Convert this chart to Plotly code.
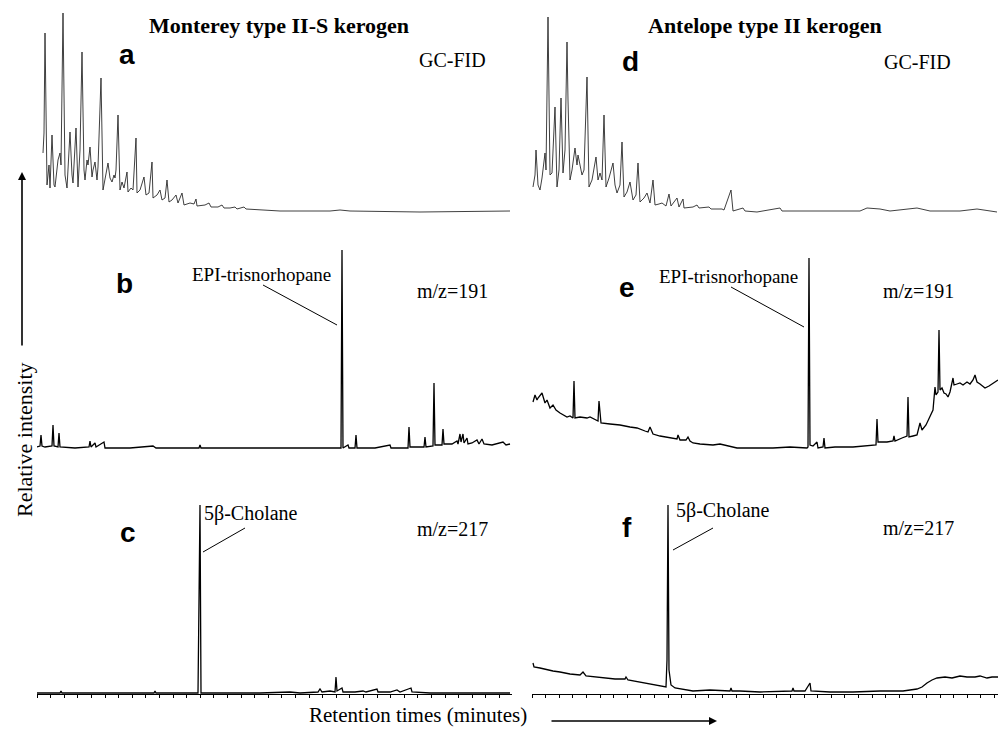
import plotly.graph_objects as go

# ---------------- data (retention time in minutes, relative intensity) ----------------
# Panel a: Monterey type II-S kerogen, GC-FID
a_rt = [1.5, 1.75, 2.0, 2.25, 2.5, 3.0, 3.25, 3.75, 4.25, 4.5, 5.0, 5.25, 5.75, 6.0, 6.5, 7.0, 7.5, 7.75,
        8.25, 8.75, 9.0, 9.25, 9.75, 10.25, 10.5, 10.75, 11.25, 11.75, 12.0, 12.5, 12.75, 13.25, 13.75, 14.0,
        14.5, 15.0, 15.25, 16.0, 16.5, 17.0, 17.25, 17.75, 18.25, 18.75, 19.25, 19.5, 19.75, 20.25, 20.75,
        21.25, 21.75, 22.5, 22.75, 23.5, 24.0, 24.75, 25.0, 25.75, 26.75, 27.25, 28.0, 28.75, 29.0, 30.0,
        30.75, 31.25, 32.0, 32.5, 33.0, 33.75, 34.75, 35.25, 36.25, 36.75, 38.25, 39.25, 39.75, 40.0, 42.0,
        43.0, 43.5, 45.25, 46.25, 46.75, 48.25, 49.5, 50.0, 51.75, 52.25, 56.5, 60.75, 73.25, 75.75, 78.25,
        95.75, 118.25]
a_int = [62, 82, 182, 65, 30, 50, 27, 80, 30, 28, 45, 55, 62, 50, 202, 40, 27, 45,
         83, 40, 32, 50, 87, 28, 45, 65, 163, 45, 35, 55, 50, 68, 38, 45,
         53, 35, 48, 137, 25, 35, 43, 52, 37, 33, 40, 37, 45, 100, 25,
         33, 27, 43, 23, 27, 25, 77, 22, 25, 38, 20, 22, 53, 17, 20,
         25, 15, 17, 35, 13, 15, 20, 12, 22, 10, 12, 11, 16, 9, 10,
         12, 8, 8, 10, 7, 7, 8, 6, 8, 6, 5, 4, 4, 5, 4,
         3, 4]

# Panel b: Monterey, m/z=191
b_rt = [0, 0.75, 1.0, 1.25, 2.0, 3.75, 4.0, 4.25, 5.25, 5.5, 5.75, 9.5, 13.0, 13.25, 13.5, 14.5, 14.75,
        16.75, 17.0, 23.25, 29.0, 29.75, 40.5, 40.75, 41.0, 55.75, 76.0, 76.25, 76.5, 77.75, 78.0, 79.5,
        79.75, 80.0, 84.5, 88.25, 88.5, 92.75, 93.0, 93.25, 96.75, 97.0, 97.25, 99.0, 99.25, 99.5, 101.25,
        101.5, 101.75, 103.75, 105.0, 105.25, 105.75, 106.0, 106.5, 106.75, 107.5, 107.75, 108.75, 110.0,
        110.5, 111.25, 111.75, 113.75, 116.5, 117.25, 118.25]
b_int = [8, 9, 20, 9, 8, 9, 30, 9, 8, 22, 8, 7, 8, 14, 8, 12, 8,
         13, 7, 7, 9, 7, 7, 10, 7, 7, 7, 205, 7, 10, 7, 7,
         20, 7, 7, 10, 7, 7, 28, 8, 8, 18, 8, 9, 72, 10, 10,
         26, 11, 11, 14, 11, 21, 13, 21, 12, 17, 11, 12, 15,
         11, 16, 11, 10, 13, 10, 11]

# Panel c: Monterey, m/z=217
c_rt = [0, 5.75, 6.0, 6.25, 29.25, 29.5, 29.75, 40.25, 40.5, 40.75, 41.0, 55.75, 63.25, 65.75, 70.25,
        70.75, 71.25, 73.25, 74.5, 74.75, 75.0, 76.25, 76.5, 79.5, 81.5, 82.25, 85.0, 85.25, 88.25, 90.0,
        90.75, 93.5, 93.75, 98.25, 118.25]
c_int = [1, 1, 3, 1, 1, 3, 1, 1, 94, 189, 1, 1, 2, 1, 2,
         5, 2, 3, 2, 17, 3, 6, 2, 2, 3, 2, 5, 2, 2, 4,
         2, 6, 2, 1, 1]

# Panel d: Antelope type II kerogen, GC-FID
d_rt = [0.25, 0.75, 1.0, 1.5, 2.0, 2.5, 3.25, 3.5, 4.0, 4.5, 5.0, 5.75, 6.25, 6.75, 7.25, 7.75, 8.25,
        8.75, 9.0, 9.5, 10.0, 10.75, 11.25, 11.5, 12.0, 12.5, 13.0, 13.75, 14.25, 15.0, 16.0, 16.5, 17.0,
        17.5, 18.0, 18.5, 19.25, 20.25, 20.75, 21.25, 22.0, 22.5, 23.0, 23.75, 24.5, 25.25, 26.0, 26.5,
        27.0, 28.0, 28.75, 29.5, 30.25, 30.75, 31.75, 32.5, 33.5, 34.25, 34.75, 36.25, 36.75, 37.75, 38.0,
        40.25, 41.25, 41.75, 44.25, 44.75, 47.5, 48.0, 49.75, 50.25, 52.75, 53.25, 56.25, 62.0, 62.5,
        72.0, 82.0, 83.75, 87.0, 89.5, 96.25, 99.5, 107.0, 111.25, 116.25]
d_int = [28, 40, 65, 30, 25, 37, 62, 45, 198, 40, 42, 108, 28, 45, 117, 42, 65,
         173, 115, 35, 45, 67, 50, 60, 50, 40, 45, 138, 28, 35, 58, 35, 42,
         35, 100, 28, 37, 52, 30, 22, 30, 73, 18, 23, 33, 15, 20, 52,
         13, 17, 22, 12, 35, 10, 11, 12, 9, 21, 9, 17, 8, 16, 7,
         8, 10, 7, 8, 6, 6, 5, 25, 4, 7, 4, 3, 7, 4,
         4, 4, 7, 6, 4, 7, 4, 4, 6, 3]

# Panel e: Antelope, m/z=191
e_rt = [0.25, 0.75, 1.25, 1.5, 2.5, 3.25, 3.75, 4.5, 5.25, 6.0, 7.0, 8.0, 8.75, 9.5, 10.25, 10.5, 10.75,
        12.0, 13.75, 14.5, 15.75, 16.5, 16.75, 17.25, 19.5, 22.0, 24.5, 26.25, 28.25, 29.0, 29.5, 30.25,
        32.0, 34.5, 36.25, 36.5, 37.0, 38.5, 39.0, 39.5, 40.25, 42.0, 45.25, 47.0, 51.25, 55.75, 60.25,
        64.5, 68.75, 69.0, 69.25, 69.5, 70.25, 71.25, 71.5, 72.75, 73.0, 73.25, 75.75, 80.25, 83.25, 85.25,
        86.0, 86.25, 86.5, 88.75, 90.25, 90.5, 90.75, 92.5, 93.5, 93.75, 94.0, 94.25, 95.25, 96.25, 97.0,
        97.5, 98.5, 99.75, 100.25, 100.75, 101.0, 101.5, 101.75, 102.0, 102.5, 103.0, 103.5, 104.0, 104.5,
        105.25, 105.5, 106.25, 107.0, 107.75, 108.75, 109.5, 110.25, 110.75, 111.25, 112.0, 113.25, 114.25,
        115.25, 116.0, 116.5]
e_int = [53, 60, 55, 57, 62, 52, 55, 47, 50, 45, 42, 40, 38, 39, 37, 74, 37,
         38, 37, 38, 35, 34, 54, 32, 31, 30, 28, 27, 24, 23, 28, 21,
         19, 17, 16, 20, 15, 15, 18, 14, 12, 11, 10, 11, 7, 7, 7,
         8, 7, 8, 197, 10, 9, 13, 7, 8, 17, 7, 8, 8, 9, 10,
         10, 36, 13, 13, 14, 19, 14, 17, 18, 19, 58, 18, 19, 20, 32,
         25, 30, 40, 45, 68, 60, 63, 125, 65, 67, 62, 61, 58, 63,
         77, 70, 71, 72, 70, 73, 71, 75, 80, 73, 71, 67, 69,
         72, 74, 75]

# Panel f: Antelope, m/z=217
f_rt = [0.25, 0.5, 2.0, 3.75, 5.25, 7.0, 9.5, 12.0, 12.75, 13.5, 15.75, 17.75, 20.75, 23.25, 23.5, 24.0,
        27.75, 30.75, 33.5, 33.75, 34.0, 34.25, 34.75, 35.75, 37.0, 40.25, 44.5, 49.5, 49.75, 50.0, 52.0,
        57.0, 65.0, 65.25, 65.5, 68.25, 69.5, 69.75, 74.5, 80.25, 87.0, 92.75, 96.25, 97.5, 98.75, 100.0,
        101.25, 103.25, 105.0, 107.0, 108.75, 110.75, 112.0, 113.75, 115.0, 116.5]
f_int = [31, 27, 26, 24, 23, 22, 20, 19, 22, 18, 17, 16, 15, 15, 17, 14,
         11, 9, 7, 34, 189, 24, 9, 6, 5, 3, 4, 3, 6, 3, 3,
         2, 3, 6, 3, 3, 11, 3, 2, 2, 3, 3, 5, 7, 11, 14,
         16, 17, 16, 18, 17, 17, 18, 16, 17, 17]

panel_letters = ["a", "b", "c", "d", "e", "f"]
channel_labels = ["GC-FID", "m/z=191", "m/z=217", "GC-FID", "m/z=191", "m/z=217"]
sample_titles = ["Monterey type II-S kerogen", "Antelope type II kerogen"]
peak_names = ["EPI-trisnorhopane", "5\u03b2-Cholane"]

# ---------------- layout helpers ----------------
W, H = 998, 730


def px(x):
    return x / W


def py(y):
    return 1 - y / H


fig = go.Figure()

series = [(a_rt, a_int), (b_rt, b_int), (c_rt, c_int), (d_rt, d_int), (e_rt, e_int), (f_rt, f_int)]
widths = [0.9, 1.3, 1.3, 0.9, 1.3, 1.3]
colors = ["#2a2a2a", "#000000", "#000000", "#2a2a2a", "#000000", "#000000"]

# pixel frames for each panel: (left, right, top, bottom)
frames = [(37, 512, 0, 215), (37, 512, 240, 455), (37, 512, 479, 694),
          (532, 998, 0, 215), (532, 998, 240, 455), (532, 998, 479, 694)]
xranges = [118.75, 118.75, 118.75, 116.5, 116.5, 116.5]

layout_axes = {}
for i, ((rt, inten), fr) in enumerate(zip(series, frames)):
    n = "" if i == 0 else str(i + 1)
    fig.add_trace(go.Scatter(x=rt, y=inten, mode="lines",
                             line=dict(color=colors[i], width=widths[i]),
                             xaxis="x" + n, yaxis="y" + n, showlegend=False,
                             hoverinfo="skip"))
    is_bottom = i in (2, 5)
    xa = dict(domain=[px(fr[0]), px(fr[1])], range=[0, xranges[i]],
              showgrid=False, zeroline=False, showticklabels=False,
              anchor="y" + n, fixedrange=True)
    if is_bottom:
        xa.update(showline=True, linecolor="black", linewidth=1,
                  ticks="outside", ticklen=3, tickwidth=1, tickcolor="black",
                  tick0=0, dtick=17,
                  minor=dict(ticks="outside", ticklen=3, tickwidth=1,
                             tickcolor="black", dtick=3.4, tick0=0, showgrid=False))
    else:
        xa.update(showline=False, ticks="")
    ya = dict(domain=[py(fr[3]), py(fr[2])], range=[0, 215], visible=False,
              anchor="x" + n, fixedrange=True)
    layout_axes["xaxis" + n] = xa
    layout_axes["yaxis" + n] = ya

fig.update_layout(**layout_axes)

serif = "Liberation Serif, Times New Roman, serif"
sans = "Liberation Sans, Arial, sans-serif"
ann = []

# sample titles
ann.append(dict(x=px(279), y=py(25), text="<b>%s</b>" % sample_titles[0], showarrow=False,
                font=dict(family=serif, size=22, color="black"), xanchor="center", yanchor="middle"))
ann.append(dict(x=px(765), y=py(25), text="<b>%s</b>" % sample_titles[1], showarrow=False,
                font=dict(family=serif, size=22, color="black"), xanchor="center", yanchor="middle"))

# panel letters
letter_pos = [(127, 55), (125, 283), (128, 532), (630, 62), (627, 288), (627, 527)]
for L, (lx, ly) in zip(panel_letters, letter_pos):
    ann.append(dict(x=px(lx), y=py(ly), text="<b>%s</b>" % L, showarrow=False,
                    font=dict(family=sans, size=28, color="black"), xanchor="center", yanchor="middle"))

# channel labels
chan_pos = [(452, 60), (452, 291), (452, 529), (917, 62), (918, 291), (918, 528)]
for C, (cx, cy) in zip(channel_labels, chan_pos):
    ann.append(dict(x=px(cx), y=py(cy), text=C, showarrow=False,
                    font=dict(family=serif, size=20, color="black"), xanchor="center", yanchor="middle"))

# peak labels
ann.append(dict(x=px(261), y=py(274), text=peak_names[0], showarrow=False,
                font=dict(family=serif, size=19, color="black"), xanchor="center", yanchor="middle"))
ann.append(dict(x=px(728), y=py(276), text=peak_names[0], showarrow=False,
                font=dict(family=serif, size=19, color="black"), xanchor="center", yanchor="middle"))
ann.append(dict(x=px(251), y=py(513), text=peak_names[1], showarrow=False,
                font=dict(family=serif, size=20, color="black"), xanchor="center", yanchor="middle"))
ann.append(dict(x=px(723), y=py(511), text=peak_names[1], showarrow=False,
                font=dict(family=serif, size=20, color="black"), xanchor="center", yanchor="middle"))

# axis titles
ann.append(dict(x=px(24), y=py(440), text="Relative intensity", textangle=-90, showarrow=False,
                font=dict(family=serif, size=22, color="black"), xanchor="center", yanchor="middle"))
ann.append(dict(x=px(418), y=py(715), text="Retention times (minutes)", showarrow=False,
                font=dict(family=serif, size=21, color="black"), xanchor="center", yanchor="middle"))

# arrows
ann.append(dict(x=px(22), y=py(172), ax=0, ay=175, xref="paper", yref="paper", text="",
                showarrow=True, arrowhead=2, arrowsize=1, arrowwidth=1.6, arrowcolor="black"))
ann.append(dict(x=px(717), y=py(721), ax=-167, ay=0, xref="paper", yref="paper", text="",
                showarrow=True, arrowhead=2, arrowsize=1, arrowwidth=1.6, arrowcolor="black"))

for a in ann:
    a.setdefault("xref", "paper")
    a.setdefault("yref", "paper")

# leader lines from labels to peaks
shapes = []
for (x0, y0, x1, y1) in [(263, 285, 337, 325), (731, 287, 804, 327), (245, 528, 203, 552), (713, 528, 673, 550)]:
    shapes.append(dict(type="line", xref="paper", yref="paper", x0=px(x0), y0=py(y0), x1=px(x1), y1=py(y1),
                       line=dict(color="black", width=1)))

fig.update_layout(width=W, height=H, margin=dict(l=0, r=0, t=0, b=0),
                  paper_bgcolor="white", plot_bgcolor="white",
                  annotations=ann, shapes=shapes, showlegend=False)

fig.write_html("out.html")
